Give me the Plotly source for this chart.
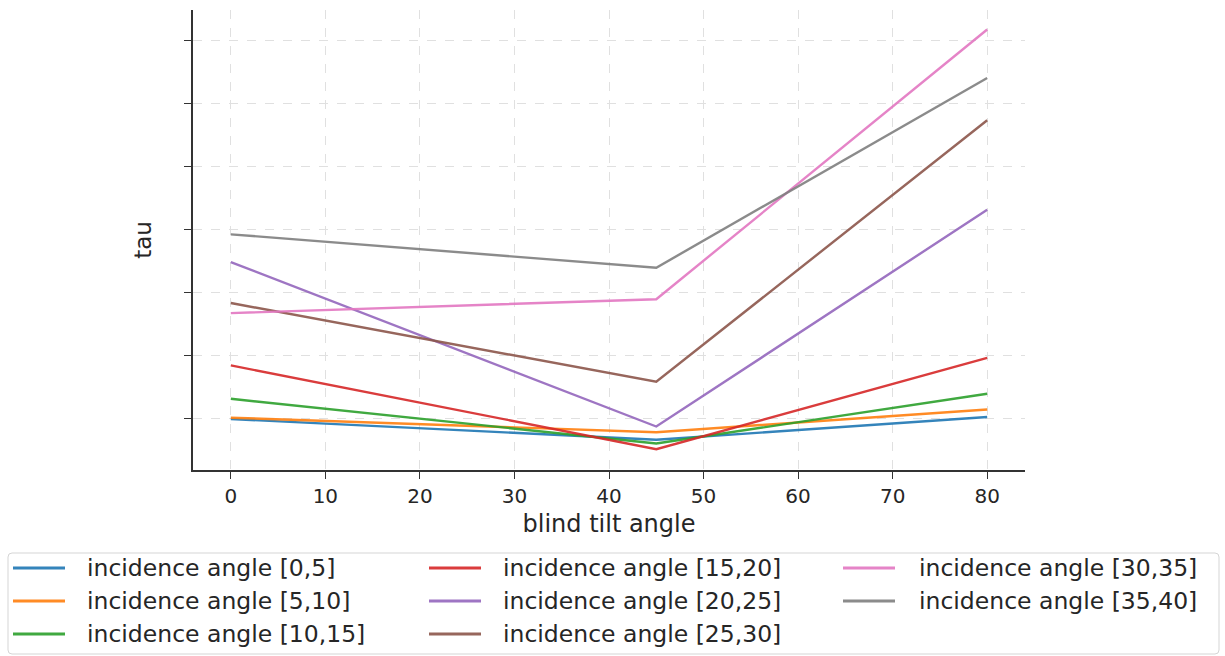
import plotly.graph_objects as go

# blind tilt angles sampled
tilt = [0, 45, 80]

labels = [
    "incidence angle [0,5]",
    "incidence angle [5,10]",
    "incidence angle [10,15]",
    "incidence angle [15,20]",
    "incidence angle [20,25]",
    "incidence angle [25,30]",
    "incidence angle [30,35]",
    "incidence angle [35,40]",
]

tau_0_5 = [0.100, 0.067, 0.103]
tau_5_10 = [0.102, 0.079, 0.115]
tau_10_15 = [0.132, 0.061, 0.140]
tau_15_20 = [0.185, 0.052, 0.197]
tau_20_25 = [0.349, 0.088, 0.432]
tau_25_30 = [0.284, 0.159, 0.574]
tau_30_35 = [0.268, 0.290, 0.718]
tau_35_40 = [0.393, 0.340, 0.641]

series = [tau_0_5, tau_5_10, tau_10_15, tau_15_20,
          tau_20_25, tau_25_30, tau_30_35, tau_35_40]

colors = ["#1f77b4", "#ff7f0e", "#2ca02c", "#d62728",
          "#9467bd", "#8c564b", "#e377c2", "#7f7f7f"]

font_family = "DejaVu Sans"
text_color = "#262626"

W, H = 1225, 656
M_L, M_R, M_T, M_B = 193, 200, 10, 186
PW, PH = W - M_L - M_R, H - M_T - M_B


def px_x(px):
    """pixel column -> paper x"""
    return (px - M_L) / PW


def px_y(py):
    """pixel row -> paper y"""
    return (H - M_B - py) / PH


fig = go.Figure()
for name, vals, col in zip(labels, series, colors):
    fig.add_trace(go.Scatter(
        x=tilt, y=vals, mode="lines", name=name,
        line=dict(color=col, width=2.4),
        opacity=0.9,
        showlegend=False,
    ))

# legend: three columns filled top to bottom, inside a rounded frame
shapes = []
annotations = []
col_line_x = [(13, 65), (429, 481), (843, 895)]
col_text_x = [85, 501, 917]
row_y = [568, 601, 634]
for i, (name, col) in enumerate(zip(labels, colors)):
    c, r = i // 3, i % 3
    x0, x1 = col_line_x[c]
    y = row_y[r]
    shapes.append(dict(
        type="line", xref="paper", yref="paper",
        x0=px_x(x0), x1=px_x(x1), y0=px_y(y), y1=px_y(y),
        line=dict(color=col, width=3), opacity=0.9,
    ))
    annotations.append(dict(
        xref="paper", yref="paper", x=px_x(col_text_x[c]), y=px_y(y),
        xanchor="left", yanchor="middle", showarrow=False,
        text=name, font=dict(family=font_family, size=23.5, color=text_color),
    ))

bx0, bx1, by0, by1, rad = 8, 1219, 553, 654, 4
rx, ry = rad / PW, rad / PH
X0, X1, Y0, Y1 = px_x(bx0), px_x(bx1), px_y(by1), px_y(by0)
frame = (
    f"M{X0 + rx},{Y0} L{X1 - rx},{Y0} Q{X1},{Y0} {X1},{Y0 + ry} "
    f"L{X1},{Y1 - ry} Q{X1},{Y1} {X1 - rx},{Y1} "
    f"L{X0 + rx},{Y1} Q{X0},{Y1} {X0},{Y1 - ry} "
    f"L{X0},{Y0 + ry} Q{X0},{Y0} {X0 + rx},{Y0} Z"
)
shapes.insert(0, dict(
    type="path", xref="paper", yref="paper", path=frame,
    line=dict(color="#d5d5d5", width=1), fillcolor="white", layer="above",
))

fig.update_layout(
    width=W, height=H,
    margin=dict(l=M_L, r=M_R, t=M_T, b=M_B),
    paper_bgcolor="white", plot_bgcolor="white",
    font=dict(family=font_family, color=text_color, size=20),
    showlegend=False,
    shapes=shapes,
    annotations=annotations,
    xaxis=dict(
        range=[-4, 84],
        tickvals=[0, 10, 20, 30, 40, 50, 60, 70, 80],
        ticks="outside", ticklen=7, tickwidth=1.2, tickcolor="#333",
        showline=True, linecolor="#333", linewidth=1.5,
        showgrid=True, gridcolor="#e0e0e0", griddash="dash", gridwidth=1,
        zeroline=False,
        tickfont=dict(size=20),
        title=dict(text="blind tilt angle", font=dict(size=24), standoff=8),
    ),
    yaxis=dict(
        range=[0.019, 0.749],
        tickvals=[0.1, 0.2, 0.3, 0.4, 0.5, 0.6, 0.7],
        showticklabels=False,
        ticks="outside", ticklen=7, tickwidth=1.2, tickcolor="#333",
        showline=True, linecolor="#333", linewidth=1.5,
        showgrid=True, gridcolor="#e0e0e0", griddash="dash", gridwidth=1,
        zeroline=False,
        title=dict(text="tau", font=dict(size=23), standoff=26),
    ),
)

fig.write_html("out.html")
